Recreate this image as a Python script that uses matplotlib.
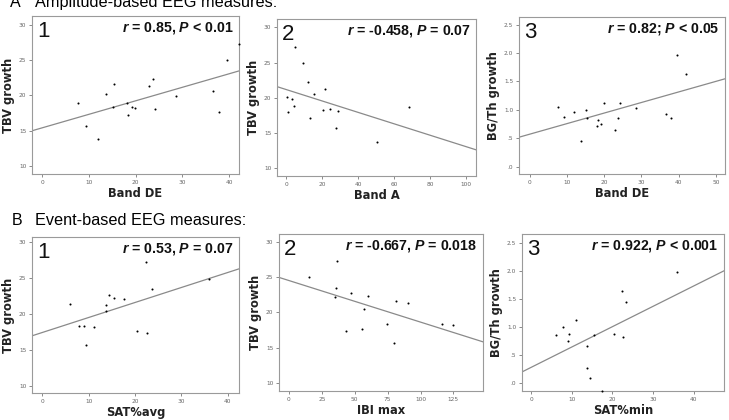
import numpy as np
import matplotlib
matplotlib.use("Agg")
import matplotlib.pyplot as plt

plt.rcParams['mathtext.fontset'] = 'custom'
plt.rcParams['mathtext.it'] = 'Liberation Sans:bold:italic'
plt.rcParams['mathtext.rm'] = 'Liberation Sans:bold'
plt.rcParams['mathtext.bf'] = 'Liberation Sans:bold'

# Band DE (shared by A1 and A3)
band_de = [7.55, 9.33, 11.9, 13.7, 15.05, 15.4, 18.1, 18.4, 19.1, 19.85,
           22.9, 23.6, 24.1, 28.6, 36.6, 37.9, 39.55, 42.0]
tbv_a1 = [18.88, 15.74, 13.82, 20.19, 18.36, 21.55, 18.92, 17.19, 18.36, 18.22,
          21.31, 22.3, 18.13, 19.9, 20.61, 17.66, 25.0, 27.3]
bgth_a3 = [1.047, 0.882, 0.965, 0.447, 0.994, 0.859, 0.718, 0.818, 0.747, 1.112,
           0.653, 0.853, 1.129, 1.024, 0.935, 0.865, 1.97, 1.63]

band_a = [0.37, 0.74, 3.33, 4.07, 5.0, 9.26, 11.85, 13.33, 15.19, 20.56,
          21.67, 24.07, 27.6, 28.9, 50.56, 68.5]
tbv_a2 = [20.05, 18.0, 19.81, 18.86, 27.2, 24.95, 22.23, 17.1, 20.52, 18.24,
          21.24, 18.34, 15.62, 18.15, 13.67, 18.72]

sat_avg = [5.9, 7.84, 9.06, 9.42, 11.08, 13.8, 13.8, 14.3, 15.54, 17.6,
           20.36, 22.3, 22.5, 23.6, 35.97]
tbv_b1 = [21.45, 18.36, 18.27, 15.7, 18.22, 21.26, 20.47, 22.71, 22.24, 22.15,
          17.62, 27.2, 17.34, 23.46, 24.9]

ibi_max = [15.2, 34.7, 35.9, 36.2, 43.5, 47.1, 55.7, 57.2, 60.2, 74.6,
           79.7, 81.5, 90.8, 116.6, 125.0]
tbv_b2 = [25.0, 22.24, 23.52, 27.29, 17.38, 22.76, 17.66, 20.52, 22.33, 18.38,
          15.67, 21.57, 21.33, 18.33, 18.24]

sat_min = [6.0, 7.89, 8.96, 9.37, 11.0, 13.72, 13.72, 14.38, 15.53, 17.5,
           20.3, 22.27, 22.51, 23.42, 35.9]
bgth_b3 = [0.861, 1.004, 0.748, 0.885, 1.122, 0.659, 0.279, 0.089, 0.855, -0.13,
           0.879, 1.639, 0.819, 1.443, 1.977]

# fit lines (intercept, slope)
fits = [(15.42, 0.1907), (21.15, -0.0811), (0.571, 0.01862),
        (17.42, 0.2095), (24.55, -0.05925), (0.285, 0.0361)]

stats = [r'$r$ = 0.85, $P$ < 0.01', r'$r$ = -0.458, $P$ = 0.07',
         r'$r$ = 0.82; $P$ < 0.05', r'$r$ = 0.53, $P$ = 0.07',
         r'$r$ = -0.667, $P$ = 0.018', r'$r$ = 0.922, $P$ < 0.001']
xlabels = ['Band DE', 'Band A', 'Band DE', 'SAT%avg', 'IBI max', 'SAT%min']
ylabels = ['TBV growth', 'TBV growth', 'BG/Th growth',
           'TBV growth', 'TBV growth', 'BG/Th growth']

W, H = 729, 420
fig = plt.figure(figsize=(W / 100, H / 100), dpi=100)

# axes boxes in pixels: left, top, right, bottom
boxes = [(32, 16, 239, 174), (277, 19, 476, 176), (519, 17, 725, 174),
         (32, 237, 239, 393), (279, 234, 483, 391), (522, 234, 724, 391)]
xlims = [(-2.2, 42.1), (-5.2, 105.6), (-2.86, 52.4),
         (-2.23, 42.4), (-7.6, 147.5), (-2.3, 47.5)]
ylims = [(8.9, 31.2), (8.86, 31.19), (-0.13, 2.635),
         (8.97, 30.75), (8.8, 31.19), (-0.137, 2.654)]
xticks = [np.arange(0, 41, 10), np.arange(0, 101, 20), np.arange(0, 51, 10),
          np.arange(0, 41, 10), np.arange(0, 126, 25), np.arange(0, 41, 10)]
tbv_ticks = [10, 15, 20, 25, 30]
bg_ticks = [0, 0.5, 1.0, 1.5, 2.0, 2.5]
bg_labels = ['.0', '.5', '1.0', '1.5', '2.0', '2.5']

xs = [band_de, band_a, band_de, sat_avg, ibi_max, sat_min]
ys = [tbv_a1, tbv_a2, bgth_a3, tbv_b1, tbv_b2, bgth_b3]

for i in range(6):
    l, t, r, b = boxes[i]
    ax = fig.add_axes([l / W, 1 - b / H, (r - l) / W, (b - t) / H])
    ax.set_xlim(xlims[i])
    ax.set_ylim(ylims[i])
    a0, s0 = fits[i]
    xx = np.array(xlims[i])
    ax.plot(xx, a0 + s0 * xx, color='#8a8a8a', lw=0.9)
    ax.scatter(xs[i], ys[i], s=2.2, color='black', zorder=3, clip_on=False,
               linewidths=0)
    ax.set_xticks(xticks[i])
    if i in (2, 5):
        ax.set_yticks(bg_ticks)
        ax.set_yticklabels(bg_labels)
    else:
        ax.set_yticks(tbv_ticks)
    for sp in ax.spines.values():
        sp.set_color('#9a9a9a')
        sp.set_linewidth(0.8)
    ax.tick_params(length=2.5, width=0.6, color='#777777', labelsize=4.2,
                   labelcolor='#666666', pad=1.5)
    ax.set_xlabel(xlabels[i], fontsize=8.3, fontweight='bold', color='#222222',
                  family='DejaVu Sans', labelpad=2)
    ax.set_ylabel(ylabels[i], fontsize=8.3, fontweight='bold', color='#222222',
                  family='DejaVu Sans', labelpad=3)
    ax.text(0.972, 0.925, stats[i], transform=ax.transAxes, ha='right', va='center',
            fontsize=10.2, fontweight='bold', family='Liberation Sans', color='#111111')
    ax.text(0.025, 0.9, str(i % 3 + 1), transform=ax.transAxes, ha='left', va='center',
            fontsize=16, family='Liberation Sans', color='#111111')

fig.text(10 / W, 1 - 7 / H, 'A', fontsize=11.5, family='Liberation Sans', va='baseline')
fig.text(35 / W, 1 - 7 / H, 'Amplitude-based EEG measures:', fontsize=11.7,
         family='Liberation Sans', va='baseline')
fig.text(12 / W, 1 - 225 / H, 'B', fontsize=11.5, family='Liberation Sans', va='baseline')
fig.text(35 / W, 1 - 225 / H, 'Event-based EEG measures:', fontsize=11.7,
         family='Liberation Sans', va='baseline')

fig.savefig('out.png', dpi=100)
